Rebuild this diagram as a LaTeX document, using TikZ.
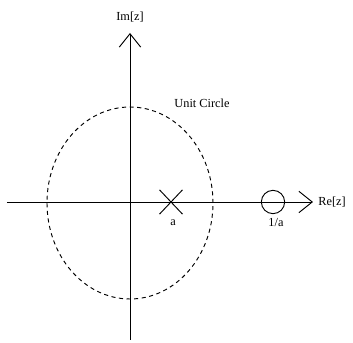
\documentclass[tikz,border=0pt]{standalone}
\usepackage{fontspec}
\setmainfont{Liberation Serif}
\usetikzlibrary{arrows.meta,shapes.misc}

\begin{document}
\begin{tikzpicture}[
  x=0.03cm,
  y=0.03cm,
  axis/.style={
      line width=0.8pt,
      -{Straight Barb[length=0.4cm,width=0.64cm,line width=0.8pt]}
  },
  unitcirc/.style={
      line width=0.8pt,
      dash pattern=on 3.5pt off 3pt
  },
  pole/.style={
      cross out,
      draw,
      line width=0.8pt,
      inner sep=0pt,
      minimum width=0.66cm,
      minimum height=0.7cm
  },
  zero/.style={
      circle,
      draw,
      line width=0.8pt,
      inner sep=0pt,
      minimum size=0.7cm
  },
  lbl/.style={
      font=\fontsize{10.5}{12}\selectfont,
      inner sep=1pt
  }
]

\useasboundingbox (-130,-141) rectangle (223,202);

% ==================================================
% Axes
% ==================================================

\coordinate (reLeft)  at (-123,0);
\coordinate (reRight) at (183,0);
\coordinate (imBot)   at (0,-138);
\coordinate (imTop)   at (0,169);

\draw[axis] (reLeft) -- (reRight);
\draw[axis] (imBot) -- (imTop);

\node[lbl, anchor=west] (relbl) at (187,0)   {Re[z]};
\node[lbl]              (imlbl) at (0,185)   {Im[z]};

% ==================================================
% Unit Circle
% ==================================================

\draw[unitcirc] (0,-1) ellipse [x radius=83, y radius=96];

\node[lbl] (uclbl) at (72,99) {Unit Circle};

% ==================================================
% Pole and Zero
% ==================================================

\node[pole] (pz) at (41,0) {};
\node[zero] (zz) at (143,0) {};

\node[lbl] (pzlbl) at (43,-21)  {a};
\node[lbl] (zzlbl) at (146,-21) {1/a};

\end{tikzpicture}
\end{document}
